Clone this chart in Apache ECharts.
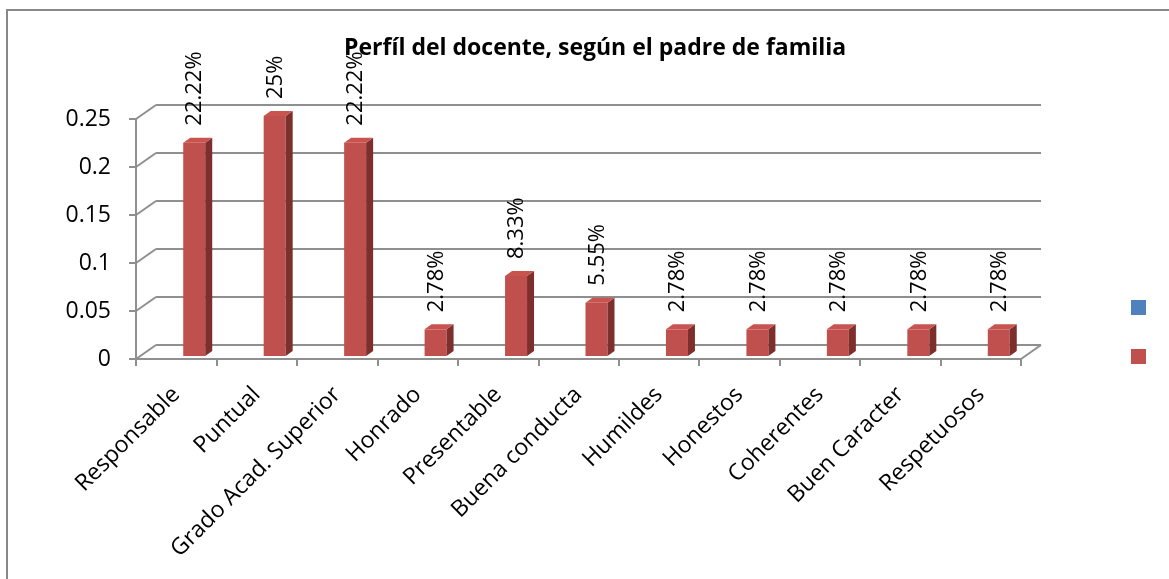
<!DOCTYPE html>
<html>
<head>
<meta charset="utf-8">
<script src="https://cdn.jsdelivr.net/npm/echarts@6/dist/echarts.min.js"></script>
<style>
  html, body { margin: 0; padding: 0; background: #fff; }
  #chart { width: 1169px; height: 579px; }
</style>
</head>
<body>
<div id="chart"></div>
<script>
// datos
const categories = ['Responsable', 'Puntual', 'Grado Acad. Superior', 'Honrado', 'Presentable',
  'Buena conducta', 'Humildes', 'Honestos', 'Coherentes', 'Buen Caracter', 'Respetuosos'];
const values = [0.2222, 0.25, 0.2222, 0.0278, 0.0833, 0.0555, 0.0278, 0.0278, 0.0278, 0.0278, 0.0278];
const yTicks = [0, 0.05, 0.1, 0.15, 0.2, 0.25];
const seriesNames = ['Serie 1', 'Serie 2'];

const FONT = 'Open Sans';
const LINE = '#8f8f8f';
// profundidad del "3D"
const DEPTH_X = 20, DEPTH_Y = -14;
const BAR_SHIFT = 7, BAR_W = 22, BAR_DX = 7, BAR_DY = -5, BAR_LIFT = 3;

const myChart = echarts.init(document.getElementById('chart'));

const option = {
  animation: false,
  backgroundColor: '#ffffff',
  title: {
    text: 'Perfíl del docente, según el padre de familia',
    left: 339,
    top: 32,
    textStyle: { fontFamily: FONT, fontSize: 23, fontWeight: 'bold', color: '#000' }
  },
  legend: {
    orient: 'vertical',
    left: 1126,
    top: 295,
    icon: 'rect',
    itemWidth: 15,
    itemHeight: 15,
    itemGap: 34,
    selectedMode: false,
    formatter: () => '',
    data: seriesNames
  },
  graphic: [{
    type: 'rect',
    shape: { x: 7, y: 10, width: 1200, height: 700 },
    style: { fill: 'none', stroke: '#888', lineWidth: 2 },
    silent: true
  }],
  grid: [
    { left: 136, right: 148, top: 119, bottom: 220 },
    { left: 136 + DEPTH_X, right: 148 - DEPTH_X, top: 119 + DEPTH_Y, bottom: 220 - DEPTH_Y }
  ],
  xAxis: [
    {
      type: 'category', gridIndex: 0, data: categories,
      axisLine: { lineStyle: { color: LINE, width: 2 } },
      axisTick: { show: true, interval: 0, length: 7, lineStyle: { color: LINE, width: 2 } },
      axisLabel: { interval: 0, rotate: 45, margin: 32, fontFamily: FONT, fontSize: 23, color: '#000' }
    },
    { type: 'category', gridIndex: 1, data: categories, show: false }
  ],
  yAxis: [
    {
      type: 'value', gridIndex: 0, min: 0, max: 0.25, interval: 0.05,
      axisLine: { show: true, lineStyle: { color: LINE, width: 2 } },
      axisTick: { show: true, length: 7, lineStyle: { color: LINE, width: 2 } },
      axisLabel: { margin: 25, fontFamily: FONT, fontSize: 23, color: '#000' },
      splitLine: { show: false }
    },
    {
      type: 'value', gridIndex: 1, min: 0, max: 0.25, interval: 0.05,
      axisLine: { show: false }, axisTick: { show: false }, axisLabel: { show: false },
      splitLine: { show: true, lineStyle: { color: LINE, width: 2 } }
    }
  ],
  series: [
    {
      // paredes: diagonales entre el eje frontal y la pared del fondo
      type: 'custom', name: 'walls', xAxisIndex: 0, yAxisIndex: 0, silent: true, clip: false, z: 1,
      data: yTicks.map(v => [0, v]),
      renderItem: (params, api) => {
        const cs = params.coordSys;
        const p = api.coord([0, api.value(1)]);
        const lines = [{
          type: 'line',
          shape: { x1: cs.x, y1: p[1], x2: cs.x + DEPTH_X, y2: p[1] + DEPTH_Y },
          style: { stroke: LINE, lineWidth: 2 }
        }];
        if (api.value(1) === 0) {
          lines.push({
            type: 'line',
            shape: { x1: cs.x + cs.width, y1: p[1], x2: cs.x + cs.width + DEPTH_X, y2: p[1] + DEPTH_Y },
            style: { stroke: LINE, lineWidth: 2 }
          });
        }
        return { type: 'group', children: lines };
      }
    },
    {
      type: 'custom', name: seriesNames[0], xAxisIndex: 0, yAxisIndex: 0,
      itemStyle: { color: '#4f81bd' }, data: [],
      renderItem: () => null
    },
    {
      type: 'custom', name: seriesNames[1], xAxisIndex: 0, yAxisIndex: 0, clip: false, z: 3,
      itemStyle: { color: '#c0504d' },
      data: values.map((v, i) => [i, v]),
      renderItem: (params, api) => {
        const i = api.value(0), v = api.value(1);
        const top = api.coord([i, v]);
        const base = api.coord([i, 0]);
        const x0 = top[0] + BAR_SHIFT, x1 = x0 + BAR_W;
        const yT = top[1] - BAR_LIFT, yB = base[1] - BAR_LIFT;
        const label = parseFloat((v * 100).toFixed(2)) + '%';
        return {
          type: 'group',
          children: [
            { type: 'rect', shape: { x: x0, y: yT, width: BAR_W, height: yB - yT },
              style: { fill: '#c0504d' } },
            { type: 'polygon', shape: { points: [[x1, yT], [x1 + BAR_DX, yT + BAR_DY], [x1 + BAR_DX, yB + BAR_DY], [x1, yB]] },
              style: { fill: '#7d2f2d' } },
            { type: 'polygon', shape: { points: [[x0, yT], [x0 + BAR_DX, yT + BAR_DY], [x1 + BAR_DX, yT + BAR_DY], [x1, yT]] },
              style: { fill: '#c9534f' } },
            { type: 'text', x: x0 + BAR_W / 2 + 1, y: yT + BAR_DY - 12, rotation: Math.PI / 2,
              style: { text: label, fontFamily: FONT, fontSize: 22, fill: '#000', align: 'left', verticalAlign: 'middle' } }
          ]
        };
      }
    }
  ]
};

myChart.setOption(option);
window.addEventListener('resize', myChart.resize);
</script>
</body>
</html>
